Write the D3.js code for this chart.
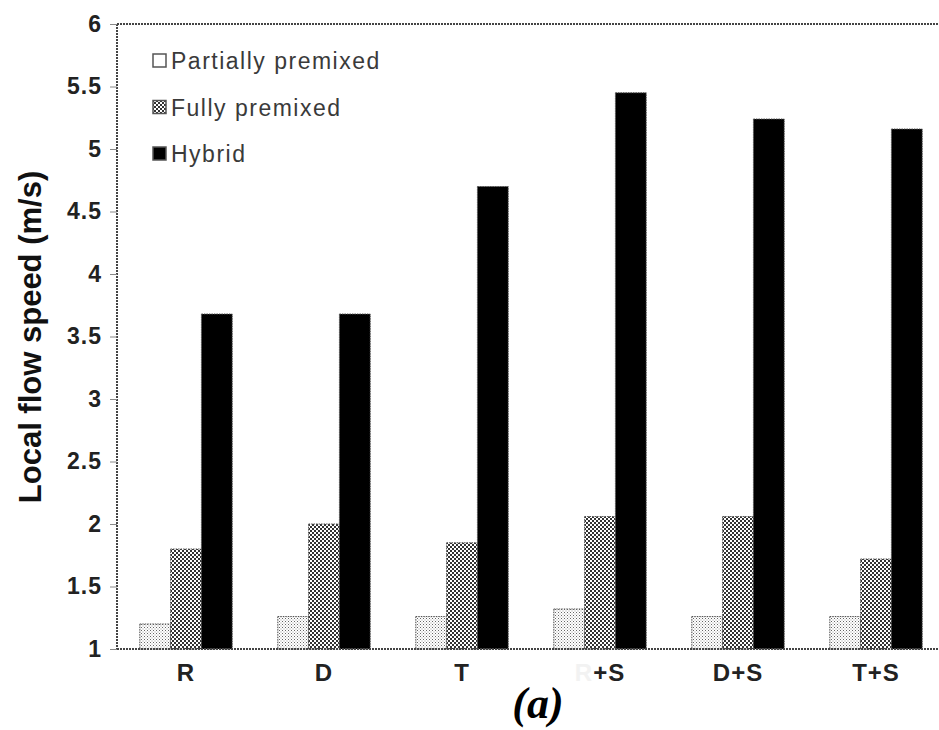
<!DOCTYPE html>
<html><head><meta charset="utf-8">
<script src="https://cdn.jsdelivr.net/npm/d3@7/dist/d3.min.js"></script>
<style>body{margin:0;background:#fff}svg{display:block}</style>
</head><body>
<svg id="chart" width="939" height="730"></svg>
<script>
const categories = ["R", "D", "T", "R+S", "D+S", "T+S"];
const seriesNames = ["Partially premixed", "Fully premixed", "Hybrid"];
const partial = [1.2, 1.26, 1.26, 1.32, 1.26, 1.26];
const fully = [1.8, 2.0, 1.85, 2.06, 2.06, 1.72];
const hybrid = [3.68, 3.68, 4.7, 5.45, 5.24, 5.16];
const yTicks = [1, 1.5, 2, 2.5, 3, 3.5, 4, 4.5, 5, 5.5, 6];
const yTickLabels = ["1", "1.5", "2", "2.5", "3", "3.5", "4", "4.5", "5", "5.5", "6"];

(function () {
const series = [partial, fully, hybrid];
const svg = d3.select("#chart");
const mLeft = 117, mRight = 945, mTop = 24, mBottom = 649;

const defs = svg.append("defs");
const p1 = defs.append("pattern").attr("id", "pPartial").attr("width", 3).attr("height", 3).attr("patternUnits", "userSpaceOnUse");
p1.append("rect").attr("width", 3).attr("height", 3).attr("fill", "#fff");
p1.append("rect").attr("width", 1).attr("height", 1).attr("fill", "#666");
p1.append("rect").attr("x", 1.5).attr("y", 1.5).attr("width", 1).attr("height", 1).attr("fill", "#999");
const p2 = defs.append("pattern").attr("id", "pFully").attr("width", 4).attr("height", 4).attr("patternUnits", "userSpaceOnUse");
p2.append("rect").attr("width", 4).attr("height", 4).attr("fill", "#fff");
p2.append("rect").attr("width", 2).attr("height", 2).attr("fill", "#333");
p2.append("rect").attr("x", 2).attr("y", 2).attr("width", 2).attr("height", 2).attr("fill", "#333");
const fills = ["url(#pPartial)", "url(#pFully)", "#000"];
const legendFills = ["#fff", "url(#pFully)", "#000"];

const x0 = d3.scaleBand().domain(categories).range([mLeft, mRight]).paddingInner(0.33).paddingOuter(0.165);
const x1 = d3.scaleBand().domain(d3.range(3)).range([0, x0.bandwidth()]);
const y = d3.scaleLinear().domain([1, 6]).range([mBottom, mTop]);

categories.forEach((c, i) => {
  series.forEach((s, j) => {
    svg.append("rect")
      .attr("x", x0(c) + x1(j))
      .attr("y", y(s[i]))
      .attr("width", x1.bandwidth())
      .attr("height", y(1) - y(s[i]))
      .attr("fill", fills[j])
      .attr("stroke", "#555")
      .attr("stroke-width", 1)
      .attr("stroke-dasharray", "1.5,1");
  });
});

const frame = svg.append("g").attr("stroke", "#444").attr("stroke-width", 2).attr("stroke-dasharray", "2,1");
frame.append("line").attr("x1", mLeft).attr("x2", 939).attr("y1", mTop).attr("y2", mTop);
frame.append("line").attr("x1", mLeft).attr("x2", 939).attr("y1", mBottom).attr("y2", mBottom);
frame.append("line").attr("x1", mLeft).attr("x2", mLeft).attr("y1", mTop).attr("y2", mBottom);

const yAxis = d3.axisLeft(y).tickValues(yTicks).tickFormat((d, i) => yTickLabels[i]).tickSize(7).tickPadding(8);
const ya = svg.append("g").attr("transform", `translate(${mLeft},0)`).call(yAxis);
ya.select(".domain").remove();
ya.selectAll(".tick line").attr("stroke", "#888");
ya.selectAll(".tick text").attr("font-family", "Liberation Sans, Arial, sans-serif").attr("font-weight", "bold")
  .attr("font-size", 23).attr("letter-spacing", 1).attr("fill", "#222");

const xAxis = d3.axisBottom(x0).tickSize(0).tickPadding(15);
const xa = svg.append("g").attr("transform", `translate(0,${mBottom})`).call(xAxis);
xa.select(".domain").remove();
xa.selectAll(".tick text").attr("font-family", "Liberation Sans, Arial, sans-serif").attr("font-weight", "bold")
  .attr("font-size", 24).attr("letter-spacing", 1).attr("fill", "#222")
  .each(function (d) {
    if (d === "R+S") {
      const t = d3.select(this); t.text("");
      t.append("tspan").attr("fill", "#f2f2f2").text("R");
      t.append("tspan").text("+S");
    }
  });

svg.append("text")
  .attr("transform", `translate(41,337) rotate(-90)`)
  .attr("text-anchor", "middle")
  .attr("font-family", "Liberation Sans, Arial, sans-serif")
  .attr("font-weight", "bold").attr("font-size", 31).attr("fill", "#111")
  .text("Local flow speed (m/s)");

const lg = svg.append("g");
seriesNames.forEach((n, j) => {
  const cy = 61 + j * 46.5;
  lg.append("rect").attr("x", 153).attr("y", cy - 7).attr("width", 13).attr("height", 13)
    .attr("fill", legendFills[j]).attr("stroke", "#555").attr("stroke-width", 1.5);
  lg.append("text").attr("x", 171).attr("y", cy + 8)
    .attr("font-family", "Liberation Sans, Arial, sans-serif").attr("font-size", 23)
    .attr("letter-spacing", 1.5).attr("fill", "#3a3a3a")
    .text(n);
});

svg.append("text").attr("x", 538).attr("y", 718).attr("text-anchor", "middle")
  .attr("font-family", "Liberation Serif, Times New Roman, serif").attr("font-style", "italic").attr("font-weight", "bold")
  .attr("font-size", 44).attr("fill", "#000").text("(a)");
})();
</script>
</body></html>
